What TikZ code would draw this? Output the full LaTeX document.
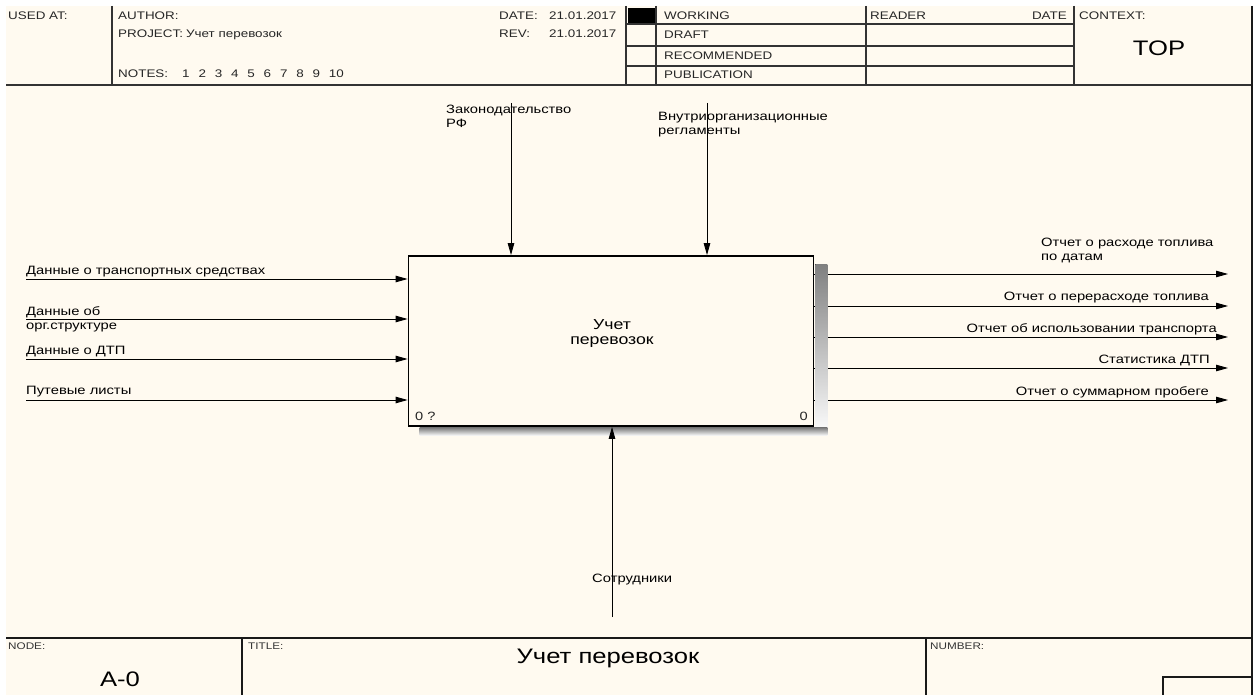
\documentclass[tikz,border=0pt]{standalone}
\usepackage{fontspec}
\setmainfont{Liberation Sans}[FakeStretch=1.22]
\usetikzlibrary{arrows.meta,calc}

\definecolor{paper}{RGB}{255,250,240}
\definecolor{shade}{RGB}{160,160,160}

\begin{document}
\begin{tikzpicture}[
    x=1pt, y=-1pt,
    frame/.style={draw=black!80, line width=1.3pt},
    hdr/.style={anchor=base west, inner sep=0pt, text=black!85, font=\fontsize{11}{13}\selectfont},
    tiny/.style={anchor=base west, inner sep=0pt, text=black!80, font=\fontsize{9.6}{11}\selectfont},
    big/.style={anchor=base, inner sep=0pt, font=\fontsize{21}{24}\selectfont},
    lbl/.style={anchor=base west, inner sep=0pt, align=left, font=\fontsize{12.1}{14}\selectfont},
    func/.style={draw=black, line width=1.8pt, fill=paper, minimum width=405pt, minimum height=170pt},
    functext/.style={inner sep=0pt, align=center, font=\fontsize{14.5}{15}\selectfont},
    flow/.style={-{Triangle[length=12pt,width=6.5pt]}, line width=0.9pt, black},
]
    \useasboundingbox (0,0) rectangle (1256,695);
    \fill[white] (0,0) rectangle (1256,695);
    \fill[paper] (6,6) rectangle (1252,695);

    % Header frame
    \draw[frame] (6,85) -- (1252,85);
    \draw[frame] (112,6) -- (112,85);
    \draw[frame] (626,6) -- (626,85);
    \draw[frame] (656,6) -- (656,85);
    \draw[frame] (866,6) -- (866,85);
    \draw[frame] (1074,6) -- (1074,85);
    \foreach \y in {24,46,66}
        \draw[frame] (626,\y) -- (1074,\y);
    \fill[black] (628,8) rectangle (655,23);

    % Header texts
    \node[hdr] (usedat) at (8,20) {USED AT:};
    \node[hdr] (author) at (118,20) {AUTHOR:};
    \node[hdr] (project) at (118,38) {PROJECT:};
    \node[hdr] (projname) at (186,38) {Учет перевозок};
    \node[hdr] (notes) at (118,78) {NOTES:};
    \foreach \n in {1,...,10}
        \node[hdr] (note\n) at ({182+16.3*(\n-1)},78) {\n};
    \node[hdr] (date) at (499,20) {DATE:};
    \node[hdr] (dateval) at (549,20) {21.01.2017};
    \node[hdr] (rev) at (499,38) {REV:};
    \node[hdr] (revval) at (549,38) {21.01.2017};
    \node[hdr] (working) at (664,20) {WORKING};
    \node[hdr] (draft) at (664,39) {DRAFT};
    \node[hdr] (recommended) at (664,60) {RECOMMENDED};
    \node[hdr] (publication) at (664,79) {PUBLICATION};
    \node[hdr] (reader) at (870,20) {READER};
    \node[hdr, anchor=base east] (readerdate) at (1067,20) {DATE};
    \node[hdr] (context) at (1079,20) {CONTEXT:};
    \node[big] (top) at (1159,56) {TOP};

    % Footer frame
    \draw[frame, draw=black!90] (6,638) -- (1252,638);
    \draw[frame, draw=black!90] (242,638) -- (242,695);
    \draw[frame, draw=black!90] (926,638) -- (926,695);
    \draw[frame, draw=black!90] (1163,695) -- (1163,677) -- (1252,677);
    \draw[frame, draw=black!90] (1252,6) -- (1252,695);

    \node[tiny] (nodelbl) at (8,649) {NODE:};
    \node[big] (nodeval) at (120,686) {A-0};
    \node[tiny] (titlelbl) at (248,649) {TITLE:};
    \node[big] (titleval) at (608,663) {Учет перевозок};
    \node[tiny] (numberlbl) at (930,649) {NUMBER:};

    % Function box
    \node[func] (acc) at (611,341) {};

    % Inputs
    \coordinate (in1) at (26,279);
    \coordinate (in2) at (26,319);
    \coordinate (in3) at (26,359);
    \coordinate (in4) at (26,400);
    \foreach \i in {1,...,4}
        \draw[flow] (in\i) -- (in\i -| acc.west);
    \node[lbl] (inlbl1) at (26,274) {Данные о транспортных средствах};
    \node[lbl] (inlbl2) at (26,329) {Данные об\\орг.структуре};
    \node[lbl] (inlbl3) at (26,354) {Данные о ДТП};
    \node[lbl] (inlbl4) at (26,394) {Путевые листы};

    % Outputs
    \coordinate (out1) at (1228,274);
    \coordinate (out2) at (1228,306);
    \coordinate (out3) at (1228,337);
    \coordinate (out4) at (1228,368);
    \coordinate (out5) at (1228,400);
    \foreach \i in {1,...,5}
        \draw[flow] (out\i -| acc.east) -- (out\i);
    \node[lbl] (outlbl1) at (1041,261) {Отчет о расходе топлива\\по датам};
    \node[lbl, anchor=base east] (outlbl2) at (1209,301) {Отчет о перерасходе топлива};
    \node[lbl, anchor=base east] (outlbl3) at (1217,332) {Отчет об использовании транспорта};
    \node[lbl, anchor=base east] (outlbl4) at (1210,363) {Статистика ДТП};
    \node[lbl, anchor=base east] (outlbl5) at (1209,395) {Отчет о суммарном пробеге};

    % Shadow, then box again on top
    \fill[shade] ($(acc.north east)+(1,9)$) rectangle ($(acc.south east)+(13,9)$);
    \fill[shade] ($(acc.south west)+(12,1)$) rectangle ($(acc.south east)+(13,9)$);
    \node[func] at (acc) {};
    \node[functext] (acclbl) at (612,334) {Учет\\перевозок};
    \node[hdr, font=\fontsize{12}{13}\selectfont] (num1) at (415,420) {0 ?};
    \node[hdr, anchor=base east, font=\fontsize{12}{13}\selectfont] (num2) at (808,420) {0};

    % Controls
    \coordinate (ctl1) at (511,103);
    \coordinate (ctl2) at (707,103);
    \draw[flow] (ctl1) -- (ctl1 |- acc.north);
    \draw[flow] (ctl2) -- (ctl2 |- acc.north);
    \node[lbl] (ctllbl1) at (446,128) {Законодательство\\РФ};
    \node[lbl] (ctllbl2) at (658,135) {Внутриорганизационные\\регламенты};

    % Mechanism
    \coordinate (mech) at (612,617);
    \draw[flow] (mech) -- (mech |- acc.south);
    \node[lbl] (mechlbl) at (592,582) {Сотрудники};
\end{tikzpicture}
\end{document}
